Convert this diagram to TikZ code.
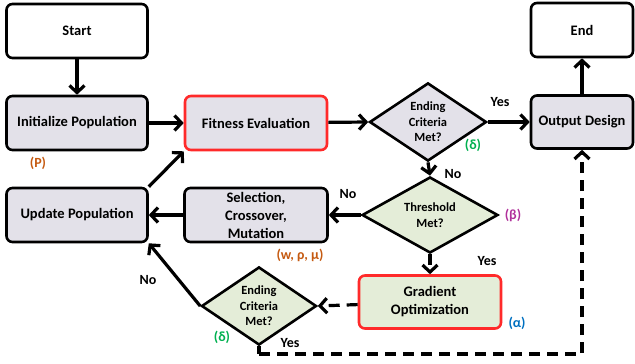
\documentclass[tikz,border=0pt]{standalone}
\usepackage{fontspec}
\setmainfont{Carlito}
\usetikzlibrary{shapes.geometric,arrows.meta}
\definecolor{grayfill}{HTML}{E3E1E9}
\definecolor{greenfill}{HTML}{E4EDD8}
\definecolor{redline}{HTML}{FF2A2A}
\definecolor{orangetxt}{HTML}{C55A11}
\definecolor{greentxt}{HTML}{00B050}
\definecolor{purpletxt}{HTML}{B0309B}
\definecolor{bluetxt}{HTML}{0070C0}
\tikzset{
  box/.style={draw=black, line width=2.6pt, rounded corners=6pt, fill=grayfill, align=center,
    font=\bfseries\fontsize{14.5}{18}\selectfont, inner sep=0pt},
  whitebox/.style={box, fill=white},
  redbox/.style={box, draw=redline},
  dia/.style={diamond, draw=black, line width=2.6pt, fill=grayfill, align=center, inner sep=0pt,
    font=\bfseries\fontsize{12.5}{15.5}\selectfont},
  conn/.style={line width=3.2pt, -{Straight Barb[length=7pt,width=15pt,line width=3.2pt]}},
  dconn/.style={conn, dash pattern=on 11pt off 7pt},
  lbl/.style={font=\bfseries\fontsize{14}{16}\selectfont, inner sep=0pt},
}
\begin{document}
\begin{tikzpicture}[x=1pt,y=-1pt]
\useasboundingbox (0,0) rectangle (635,364);
% boxes
\node[whitebox, minimum width=141pt, minimum height=54pt] (start) at (77,31) {Start};
\node[box, minimum width=141pt, minimum height=54pt] (init) at (77,123) {Initialize Population};
\node[redbox, minimum width=142pt, minimum height=54pt] (fit) at (256,123) {Fitness Evaluation};
\node[box, minimum width=102pt, minimum height=53pt] (out) at (582,122) {Output Design};
\node[whitebox, minimum width=102pt, minimum height=54pt] (end) at (582,30) {End};
\node[box, minimum width=141pt, minimum height=54pt] (upd) at (77,215) {Update Population};
\node[box, minimum width=143pt, minimum height=54pt] (sel) at (256,215) {Selection,\\Crossover,\\Mutation};
\node[redbox, fill=greenfill, minimum width=142pt, minimum height=53pt] (grad) at (430,302) {Gradient\\Optimization};
% diamonds
\node[dia, minimum width=117pt, minimum height=65pt] (d1) at (428,122) {Ending\\Criteria\\Met?};
\node[dia, fill=greenfill, minimum width=136pt, minimum height=70pt] (thr) at (430,215) {Threshold\\Met?};
\node[dia, fill=greenfill, minimum width=115pt, minimum height=64pt] (d2) at (259,306) {Ending\\Criteria\\Met?};
\coordinate (c1) at (259,354);
% connectors
\draw[conn] (start) -- (init);
\draw[conn] (init) -- (fit);
\draw[conn] (fit) -- (d1.west);
\draw[conn] (d1.east) -- (out);
\draw[conn] (d1.south) -- (thr.north);
\draw[conn] (out) -- (end);
\draw[conn] (thr.west) -- (sel);
\draw[conn] (sel) -- (upd);
\draw[conn] (upd.north east) -- (fit.south west);
\draw[dconn] (thr.south) -- (grad);
\draw[dconn] (grad) -- (d2.east);
\draw[conn] (d2.west) -- (upd.south east);
\draw[line width=3.2pt] (d2.south) -- (c1);
\draw[dconn] (c1) -| (out.south);
% labels
\node[lbl] (l1) at (500,102) {Yes};
\node[lbl] (l2) at (453,174) {No};
\node[lbl, text=greentxt] (l3) at (473,145) {(δ)};
\node[lbl, text=orangetxt] (l4) at (38,163) {(P)};
\node[lbl] (l5) at (348,194) {No};
\node[lbl, text=purpletxt] (l6) at (513,215) {(β)};
\node[lbl] (l7) at (487,261) {Yes};
\node[lbl, text=bluetxt] (l8) at (517,323) {(α)};
\node[lbl, text=orangetxt] (l9) at (300,255) {(w, ρ, μ)};
\node[lbl] (l10) at (148,280) {No};
\node[lbl, text=greentxt] (l11) at (222,337) {(δ)};
\node[lbl] (l12) at (290,343) {Yes};
\end{tikzpicture}
\end{document}
